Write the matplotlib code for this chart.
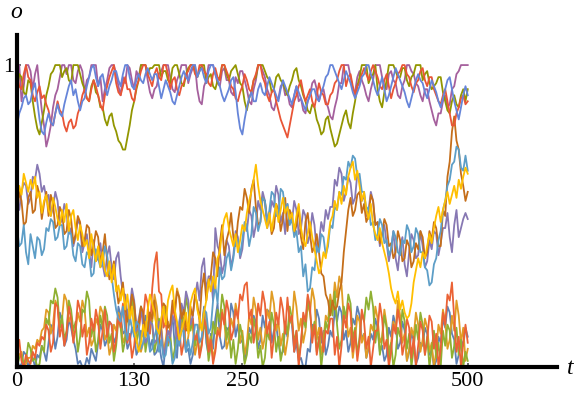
import numpy as np
import matplotlib
matplotlib.use("Agg")
import matplotlib.pyplot as plt

# opinion traces in percent, one value every 2.5 steps from t=0 to t=500,
# read off the picture (one row per 50 time steps)
low_blue = [3, 0, 1, 5, 4, 0, 2, 3, 0, 4, 3, 7, 5, 2, 8, 14, 12, 6, 10, 18,
            15, 7, 9, 16, 13, 9, 6, 1, 2, 0, 0, 3, 1, 6, 4, 2, 8, 14, 12, 7,
            9, 15, 14, 8, 10, 20, 17, 11, 12, 6, 8, 13, 11, 4, 6, 12, 10, 17, 14, 6,
            9, 4, 5, 8, 3, 0, 8, 11, 12, 17, 7, 3, 15, 19, 10, 5, 6, 1, 4, 9,
            9, 14, 13, 20, 8, 4, 11, 6, 16, 21, 10, 6, 7, 13, 12, 21, 18, 10, 14, 8,
            9, 2, 6, 13, 11, 17, 15, 6, 9, 17, 13, 19, 18, 8, 12, 14, 8, 4, 5, 13,
            10, 16, 14, 5, 8, 2, 3, 0, 0, 6, 5, 14, 11, 19, 16, 8, 12, 4, 7, 12,
            10, 19, 15, 20, 18, 9, 12, 5, 8, 16, 14, 20, 17, 9, 11, 3, 6, 11, 9, 16,
            13, 5, 7, 2, 4, 13, 10, 17, 14, 6, 8, 15, 12, 2, 5, 11, 9, 1, 3, 8,
            7, 13, 11, 4, 6, 0, 2, 10, 8, 16, 13, 20, 18, 11, 9, 1, 4, 9, 7, 13,
            10]
low_orange = [2, 4, 5, 0, 1, 3, 3, 7, 6, 9, 8, 12, 13, 19, 18, 11, 14, 22, 20, 13,
              16, 24, 22, 15, 17, 11, 12, 18, 15, 22, 19, 10, 13, 7, 9, 16, 14, 20, 18, 9,
              11, 4, 7, 14, 12, 18, 16, 8, 10, 17, 14, 22, 19, 11, 13, 5, 8, 15, 11, 18,
              15, 24, 20, 12, 14, 5, 9, 15, 12, 20, 17, 26, 23, 13, 15, 6, 10, 16, 13, 4,
              8, 15, 12, 19, 16, 7, 10, 3, 6, 13, 11, 19, 15, 6, 9, 16, 13, 21, 17, 8,
              12, 4, 8, 17, 14, 23, 19, 9, 13, 6, 10, 19, 16, 25, 21, 12, 15, 7, 11, 4,
              9, 17, 14, 25, 20, 12, 16, 8, 12, 21, 18, 26, 22, 9, 13, 4, 9, 17, 15, 24,
              19, 28, 23, 30, 27, 16, 18, 10, 13, 3, 9, 17, 15, 8, 11, 3, 7, 14, 12, 20,
              16, 8, 10, 19, 14, 5, 8, 15, 12, 22, 17, 8, 11, 2, 6, 13, 10, 18, 14, 5,
              9, 16, 13, 5, 8, 0, 5, 14, 11, 19, 15, 6, 9, 17, 12, 22, 17, 8, 13, 2,
              6]
low_green = [0, 3, 4, 1, 2, 8, 6, 2, 3, 0, 1, 7, 5, 16, 14, 22, 21, 26, 23, 13,
             17, 9, 12, 22, 19, 12, 15, 5, 10, 19, 18, 25, 22, 10, 14, 5, 9, 17, 13, 20,
             17, 8, 11, 2, 7, 16, 13, 5, 9, 19, 15, 23, 19, 8, 12, 20, 16, 5, 10, 18,
             14, 5, 9, 16, 13, 21, 17, 7, 11, 2, 6, 13, 10, 18, 14, 23, 19, 12, 16, 7,
             12, 4, 8, 14, 12, 2, 7, 15, 11, 19, 15, 24, 20, 9, 13, 3, 9, 1, 6, 14,
             10, 1, 4, 11, 8, 16, 12, 3, 7, 0, 3, 12, 9, 18, 14, 5, 10, 2, 6, 15,
             11, 20, 16, 8, 12, 3, 8, 16, 13, 23, 18, 11, 15, 5, 10, 0, 7, 15, 12, 22,
             17, 25, 14, 6, 9, 20, 16, 24, 21, 9, 13, 4, 10, 18, 15, 23, 19, 25, 20, 8,
             14, 4, 9, 17, 13, 2, 8, 0, 4, 13, 10, 19, 15, 6, 11, 0, 6, 14, 9, 18,
             14, 4, 10, 0, 6, 12, 3, 8, 0, 12, 7, 14, 12, 3, 7, 13, 4, 9, 0, 5,
             2]
low_red = [6, 9, 2, 0, 4, 2, 1, 5, 3, 8, 7, 10, 9, 14, 12, 5, 8, 21, 20, 10,
           14, 7, 11, 20, 16, 8, 13, 22, 19, 10, 14, 4, 8, 16, 12, 19, 15, 6, 12, 19,
           10, 15, 14, 5, 9, 17, 13, 21, 17, 8, 11, 3, 7, 15, 12, 18, 16, 24, 21, 11,
           26, 34, 38, 25, 24, 13, 15, 8, 11, 20, 17, 10, 13, 4, 8, 15, 12, 20, 16, 9,
           11, 3, 7, 16, 13, 5, 9, 1, 5, 12, 10, 18, 14, 22, 18, 9, 12, 19, 16, 24,
           22, 27, 28, 16, 19, 8, 13, 21, 17, 25, 21, 11, 15, 3, 10, 18, 14, 23, 19, 11,
           23, 15, 17, 5, 12, 0, 8, 18, 15, 24, 20, 8, 14, 4, 9, 13, 5, 12, 11, 16,
           16, 4, 10, 0, 7, 17, 13, 21, 18, 5, 12, 2, 8, 19, 15, 6, 10, 0, 6, 12,
           12, 21, 16, 6, 9, 0, 5, 14, 11, 19, 14, 4, 8, 16, 13, 3, 10, 0, 7, 15,
           12, 4, 9, 17, 15, 6, 11, 0, 6, 18, 14, 24, 22, 28, 16, 5, 10, 0, 8, 14,
           8]

mid_purple = [55, 52, 58, 61, 60, 54, 56, 63, 62, 67, 64, 58, 60, 56, 57, 50, 53, 58, 55, 47,
              49, 54, 51, 44, 46, 40, 43, 49, 47, 38, 41, 44, 38, 33, 42, 35, 36, 41, 34, 30,
              37, 40, 33, 29, 36, 38, 30, 24, 24, 17, 19, 26, 22, 12, 16, 20, 13, 8, 10, 15,
              14, 8, 9, 15, 12, 4, 7, 12, 10, 17, 15, 8, 11, 21, 18, 25, 22, 14, 17, 23,
              28, 22, 33, 36, 25, 30, 30, 22, 46, 40, 38, 31, 34, 42, 40, 33, 37, 45, 43, 36,
              39, 47, 45, 52, 50, 43, 47, 55, 52, 58, 55, 46, 49, 55, 53, 60, 57, 48, 51, 44,
              54, 49, 48, 55, 52, 44, 46, 52, 50, 41, 44, 51, 47, 38, 41, 48, 45, 52, 49, 53,
              53, 62, 60, 66, 64, 55, 58, 63, 61, 54, 56, 64, 62, 55, 57, 50, 52, 58, 55, 47,
              48, 40, 44, 47, 41, 35, 39, 45, 36, 32, 40, 43, 34, 30, 38, 44, 42, 36, 37, 45,
              40, 33, 35, 42, 39, 45, 44, 37, 41, 46, 46, 51, 43, 38, 47, 52, 43, 46, 49, 51,
              49]
mid_brown = [50, 58, 55, 47, 48, 56, 58, 51, 52, 60, 57, 49, 54, 58, 50, 57, 54, 46, 47, 53,
             51, 44, 45, 52, 49, 41, 44, 50, 48, 40, 42, 47, 46, 37, 40, 45, 43, 35, 38, 44,
             35, 29, 31, 35, 27, 21, 24, 28, 20, 15, 17, 24, 21, 13, 14, 20, 18, 10, 12, 18,
             16, 22, 11, 7, 15, 21, 20, 13, 14, 22, 18, 25, 23, 16, 19, 12, 13, 19, 17, 24,
             21, 15, 26, 31, 22, 28, 30, 38, 36, 30, 41, 47, 37, 42, 45, 51, 43, 40, 48, 53,
             52, 59, 56, 51, 59, 62, 53, 47, 48, 56, 55, 49, 50, 44, 46, 54, 52, 45, 49, 56,
             45, 52, 50, 44, 47, 53, 43, 39, 48, 51, 44, 38, 40, 44, 38, 31, 30, 24, 22, 17,
             22, 19, 20, 25, 28, 38, 45, 52, 56, 50, 52, 57, 58, 51, 54, 48, 50, 57, 55, 47,
             48, 41, 44, 49, 47, 40, 41, 36, 38, 45, 42, 35, 36, 42, 40, 33, 35, 41, 39, 45,
             43, 36, 38, 45, 42, 48, 46, 40, 40, 52, 50, 63, 68, 78, 83, 75, 72, 64, 60, 55,
             58]
mid_lblue = [46, 40, 41, 47, 38, 34, 44, 40, 36, 43, 42, 37, 39, 46, 45, 49, 48, 42, 43, 47,
             47, 39, 40, 45, 44, 37, 35, 41, 40, 34, 33, 38, 37, 30, 31, 39, 36, 33, 34, 40,
             37, 31, 30, 24, 19, 16, 15, 20, 12, 9, 17, 13, 10, 15, 14, 6, 8, 12, 11, 5,
             6, 10, 13, 5, 9, 3, 4, 10, 8, 1, 3, 9, 7, 12, 12, 5, 9, 4, 8, 14,
             14, 8, 10, 19, 18, 11, 13, 22, 27, 21, 33, 29, 30, 36, 38, 32, 36, 42, 42, 37,
             42, 48, 47, 40, 44, 53, 51, 45, 48, 56, 55, 48, 52, 58, 57, 50, 50, 59, 58, 52,
             54, 47, 49, 43, 45, 38, 40, 30, 34, 25, 26, 33, 32, 40, 38, 44, 43, 37, 40, 47,
             46, 53, 52, 58, 57, 63, 62, 68, 66, 70, 69, 63, 64, 58, 58, 52, 53, 47, 48, 42,
             44, 49, 47, 41, 42, 37, 39, 45, 43, 38, 37, 42, 41, 47, 45, 38, 40, 46, 44, 38,
             38, 33, 32, 27, 28, 34, 36, 42, 45, 52, 55, 60, 62, 67, 68, 73, 72, 66, 65, 70,
             65]
mid_yellow = [55, 60, 57, 64, 61, 58, 62, 59, 63, 56, 58, 51, 55, 57, 52, 50, 56, 53, 49, 47,
              52, 48, 54, 45, 50, 52, 46, 42, 47, 44, 40, 42, 36, 44, 39, 35, 40, 33, 38, 32,
              30, 35, 28, 34, 25, 27, 22, 26, 19, 24, 16, 20, 12, 9, 5, 8, 14, 10, 19, 24,
              21, 18, 13, 11, 16, 20, 14, 22, 25, 27, 19, 15, 9, 12, 15, 18, 11, 21, 24, 26,
              19, 16, 12, 18, 22, 29, 25, 30, 26, 36, 38, 45, 49, 51, 46, 43, 40, 44, 38, 42,
              47, 45, 51, 55, 58, 62, 67, 60, 55, 52, 49, 46, 51, 45, 50, 54, 48, 52, 56, 51,
              53, 49, 51, 45, 50, 54, 46, 42, 40, 44, 48, 43, 39, 35, 31, 33, 38, 36, 42, 48,
              50, 55, 52, 58, 54, 60, 57, 63, 66, 68, 62, 65, 60, 55, 58, 52, 49, 54, 47, 44,
              42, 46, 41, 38, 35, 31, 26, 23, 21, 25, 19, 22, 18, 16, 17, 21, 28, 32, 36, 33,
              38, 36, 40, 44, 41, 46, 50, 53, 48, 52, 55, 58, 54, 57, 60, 56, 62, 59, 63, 66,
              64]

top_magenta = [95, 100, 88, 93, 100, 100, 98, 92, 97, 100, 92, 85, 80, 73, 76, 80, 86, 90, 92, 96,
               100, 100, 97, 100, 100, 95, 94, 98, 100, 98, 91, 95, 96, 100, 100, 100, 93, 96, 88, 92,
               95, 99, 100, 100, 97, 93, 90, 96, 94, 100, 99, 95, 92, 98, 96, 100, 100, 100, 95, 91,
               89, 92, 93, 97, 98, 100, 100, 100, 96, 92, 91, 95, 97, 100, 100, 100, 94, 97, 99, 100,
               92, 88, 87, 93, 95, 100, 100, 100, 97, 94, 93, 98, 99, 95, 95, 91, 90, 96, 94, 98,
               98, 95, 92, 88, 87, 92, 95, 100, 100, 98, 96, 92, 90, 86, 85, 88, 89, 93, 94, 90,
               91, 87, 86, 90, 93, 88, 89, 85, 84, 88, 90, 94, 95, 92, 88, 91, 92, 88, 86, 83,
               82, 86, 89, 94, 94, 100, 100, 100, 96, 92, 91, 96, 98, 95, 93, 90, 88, 92, 95, 100,
               100, 100, 96, 93, 92, 97, 98, 95, 94, 90, 89, 93, 95, 100, 100, 98, 97, 94, 93, 90,
               88, 92, 92, 88, 85, 82, 80, 84, 84, 88, 90, 86, 87, 92, 93, 97, 98, 100, 100, 100,
               100]
top_olive = [92, 97, 96, 91, 90, 95, 94, 88, 83, 79, 77, 81, 85, 90, 93, 97, 98, 100, 100, 100,
             96, 98, 99, 95, 94, 100, 100, 100, 97, 94, 92, 89, 88, 93, 95, 91, 90, 86, 86, 82,
             80, 83, 84, 80, 78, 75, 74, 72, 72, 76, 80, 85, 88, 92, 95, 100, 100, 100, 97, 99,
             99, 100, 100, 100, 96, 98, 98, 95, 94, 99, 100, 100, 97, 94, 93, 97, 99, 100, 100, 98,
             96, 98, 100, 100, 94, 96, 97, 93, 92, 95, 96, 100, 100, 97, 95, 98, 99, 100, 97, 94,
             93, 88, 85, 89, 91, 95, 96, 100, 100, 100, 98, 96, 95, 91, 92, 96, 97, 95, 94, 92,
             90, 93, 95, 98, 99, 95, 93, 90, 88, 85, 84, 87, 86, 82, 80, 77, 78, 82, 83, 79,
             76, 73, 74, 77, 80, 83, 85, 81, 79, 84, 88, 93, 96, 100, 100, 100, 94, 96, 97, 100,
             92, 88, 86, 91, 95, 100, 100, 100, 98, 96, 96, 99, 99, 95, 93, 96, 97, 100, 100, 100,
             95, 97, 98, 94, 92, 93, 94, 96, 96, 91, 88, 85, 84, 88, 90, 87, 86, 90, 92, 88,
             92]
top_red = [97, 93, 92, 97, 100, 96, 95, 90, 88, 91, 93, 89, 90, 87, 85, 81, 80, 84, 88, 85,
           84, 80, 78, 81, 82, 79, 80, 84, 86, 90, 92, 89, 88, 92, 95, 93, 90, 87, 85, 90,
           93, 96, 98, 100, 94, 91, 90, 93, 96, 92, 92, 89, 88, 93, 95, 98, 100, 100, 97, 95,
           93, 97, 99, 96, 95, 100, 100, 97, 92, 95, 96, 92, 90, 93, 94, 97, 98, 100, 100, 97,
           96, 100, 100, 98, 97, 94, 93, 97, 99, 96, 95, 100, 100, 98, 96, 93, 92, 89, 88, 91,
           93, 97, 95, 92, 91, 95, 97, 100, 100, 96, 94, 90, 88, 91, 92, 88, 85, 82, 80, 78,
           76, 80, 84, 88, 90, 93, 95, 91, 88, 90, 92, 88, 86, 90, 94, 91, 90, 87, 87, 90,
           91, 94, 95, 98, 100, 100, 93, 96, 97, 93, 90, 93, 94, 97, 99, 97, 95, 98, 100, 98,
           96, 93, 92, 95, 97, 93, 89, 92, 94, 97, 98, 100, 100, 97, 96, 93, 91, 94, 95, 98,
           99, 95, 93, 96, 96, 92, 90, 88, 87, 90, 92, 88, 84, 80, 80, 84, 86, 89, 90, 87,
           88]
top_blue = [80, 84, 86, 89, 90, 87, 88, 92, 94, 88, 82, 78, 77, 81, 84, 81, 80, 84, 87, 84,
            83, 87, 90, 93, 95, 90, 92, 88, 85, 88, 89, 93, 96, 99, 100, 96, 93, 96, 97, 93,
            90, 93, 95, 98, 98, 95, 93, 97, 100, 100, 96, 93, 92, 95, 97, 95, 94, 97, 99, 97,
            95, 97, 97, 93, 89, 92, 95, 93, 91, 88, 87, 90, 93, 96, 98, 96, 95, 98, 100, 100,
            96, 98, 99, 96, 94, 98, 100, 100, 97, 95, 93, 90, 88, 90, 92, 95, 96, 91, 84, 79,
            77, 82, 86, 89, 91, 88, 88, 92, 94, 91, 90, 93, 96, 94, 92, 90, 88, 92, 95, 93,
            91, 89, 87, 90, 93, 91, 89, 87, 85, 88, 90, 92, 92, 89, 88, 91, 93, 96, 97, 100,
            100, 98, 96, 94, 92, 95, 98, 96, 94, 91, 89, 91, 93, 96, 97, 100, 100, 97, 95, 92,
            90, 93, 96, 92, 88, 90, 93, 96, 99, 97, 95, 93, 91, 88, 86, 89, 92, 95, 97, 95,
            94, 91, 89, 92, 95, 93, 91, 88, 86, 89, 92, 95, 96, 92, 88, 85, 82, 86, 90, 93,
            90]

series = [low_blue, low_orange, low_green, low_red,
          mid_purple, mid_brown, mid_lblue, mid_yellow,
          top_magenta, top_olive, top_red, top_blue]
colors = ["#5E81B5", "#E19C24", "#8FB032", "#EB6235",
          "#8778B3", "#C56E1A", "#5D9EC7", "#FFBF00",
          "#A5609D", "#929600", "#E95536", "#6685D9"]

xticks = [0, 130, 250, 500]
yticks = [1]

plt.rcParams["font.family"] = ["Liberation Serif", "DejaVu Serif"]
fig = plt.figure(figsize=(5.76, 4.01), dpi=100)
ax = fig.add_axes([0.0295, 0.085, 0.9375, 0.828])

for vals, c in zip(series, colors):
    t = np.linspace(0, 500, len(vals))
    ax.plot(t, np.array(vals) / 100.0, color=c, lw=1.3)

ax.set_xlim(0, 599)
ax.set_ylim(0, 1.1)
for s in ("top", "right"):
    ax.spines[s].set_visible(False)
for s in ("left", "bottom"):
    ax.spines[s].set_linewidth(3.0)
    ax.spines[s].set_zorder(5)
ax.set_xticks(xticks)
ax.set_xticklabels([str(v) for v in xticks])
ax.set_yticks(yticks)
ax.set_yticklabels(["1"])
ax.tick_params(direction="in", length=3, width=1.2, color="#555555",
               labelsize=16, pad=4)
ax.tick_params(axis="y", pad=2)

fig.text(0.028, 0.968, "o", style="italic", fontsize=17, ha="center", va="center")
fig.text(0.99, 0.082, "t", style="italic", fontsize=17, ha="center", va="center")

fig.savefig("out.png", dpi=100)
